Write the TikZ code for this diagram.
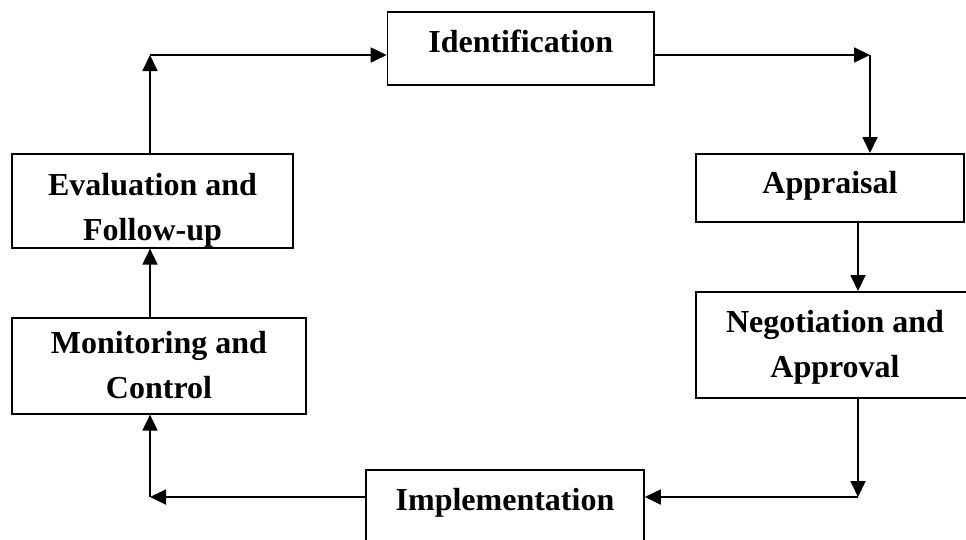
\documentclass[tikz,border=0pt]{standalone}
\usepackage{fontspec}
\setmainfont{Liberation Serif}
\usetikzlibrary{arrows.meta}
\tikzstyle{stage}=[draw,line width=1.6pt,inner sep=0pt,anchor=north,align=center,font=\bfseries\fontsize{32}{45}\selectfont]
\tikzstyle{flow}=[line width=1.8pt,-{Triangle[length=16pt,width=15pt]}]
\begin{document}
\begin{tikzpicture}[x=1pt,y=-1pt]
    \useasboundingbox (0,0) rectangle (966,539);
    \node[stage,minimum width=266.5pt,text height=41pt,text depth=32pt] (ident) at (520.75,11) {Identification};
    \node[stage,minimum width=268pt,text height=40pt,text depth=28pt] (apprais) at (830,153) {Appraisal};
    \node[stage,minimum width=278pt,text height=86pt,text depth=20pt] (negot) at (835,291) {Negotiation and\\Approval};
    \node[stage,minimum width=278pt,text height=41pt,text depth=40pt] (impl) at (505,469) {Implementation};
    \node[stage,minimum width=294pt,text height=81pt,text depth=15pt] (monitor) at (159,317) {Monitoring and\\Control};
    \node[stage,minimum width=281pt,text height=87pt,text depth=7pt] (eval) at (152.5,153) {Evaluation and\\Follow-up};
    \coordinate (c1) at (150,55);
    \coordinate (c2) at (870,55);
    \coordinate (c3) at (858,497);
    \coordinate (c4) at (150,497);
    \draw[flow] (eval.north -| c1) -- (c1);
    \draw[flow] (c1) -- (ident.west |- c1);
    \draw[flow] (ident.east |- c2) -- (c2);
    \draw[flow] (c2) -- (apprais.north -| c2);
    \draw[flow] (apprais.south -| c3) -- (negot.north -| c3);
    \draw[flow] (negot.south -| c3) -- (c3);
    \draw[flow] (c3) -- (impl.east |- c3);
    \draw[flow] (impl.west |- c4) -- (c4);
    \draw[flow] (c4) -- (monitor.south -| c4);
    \draw[flow] (monitor.north -| c4) -- (eval.south -| c4);
\end{tikzpicture}
\end{document}
